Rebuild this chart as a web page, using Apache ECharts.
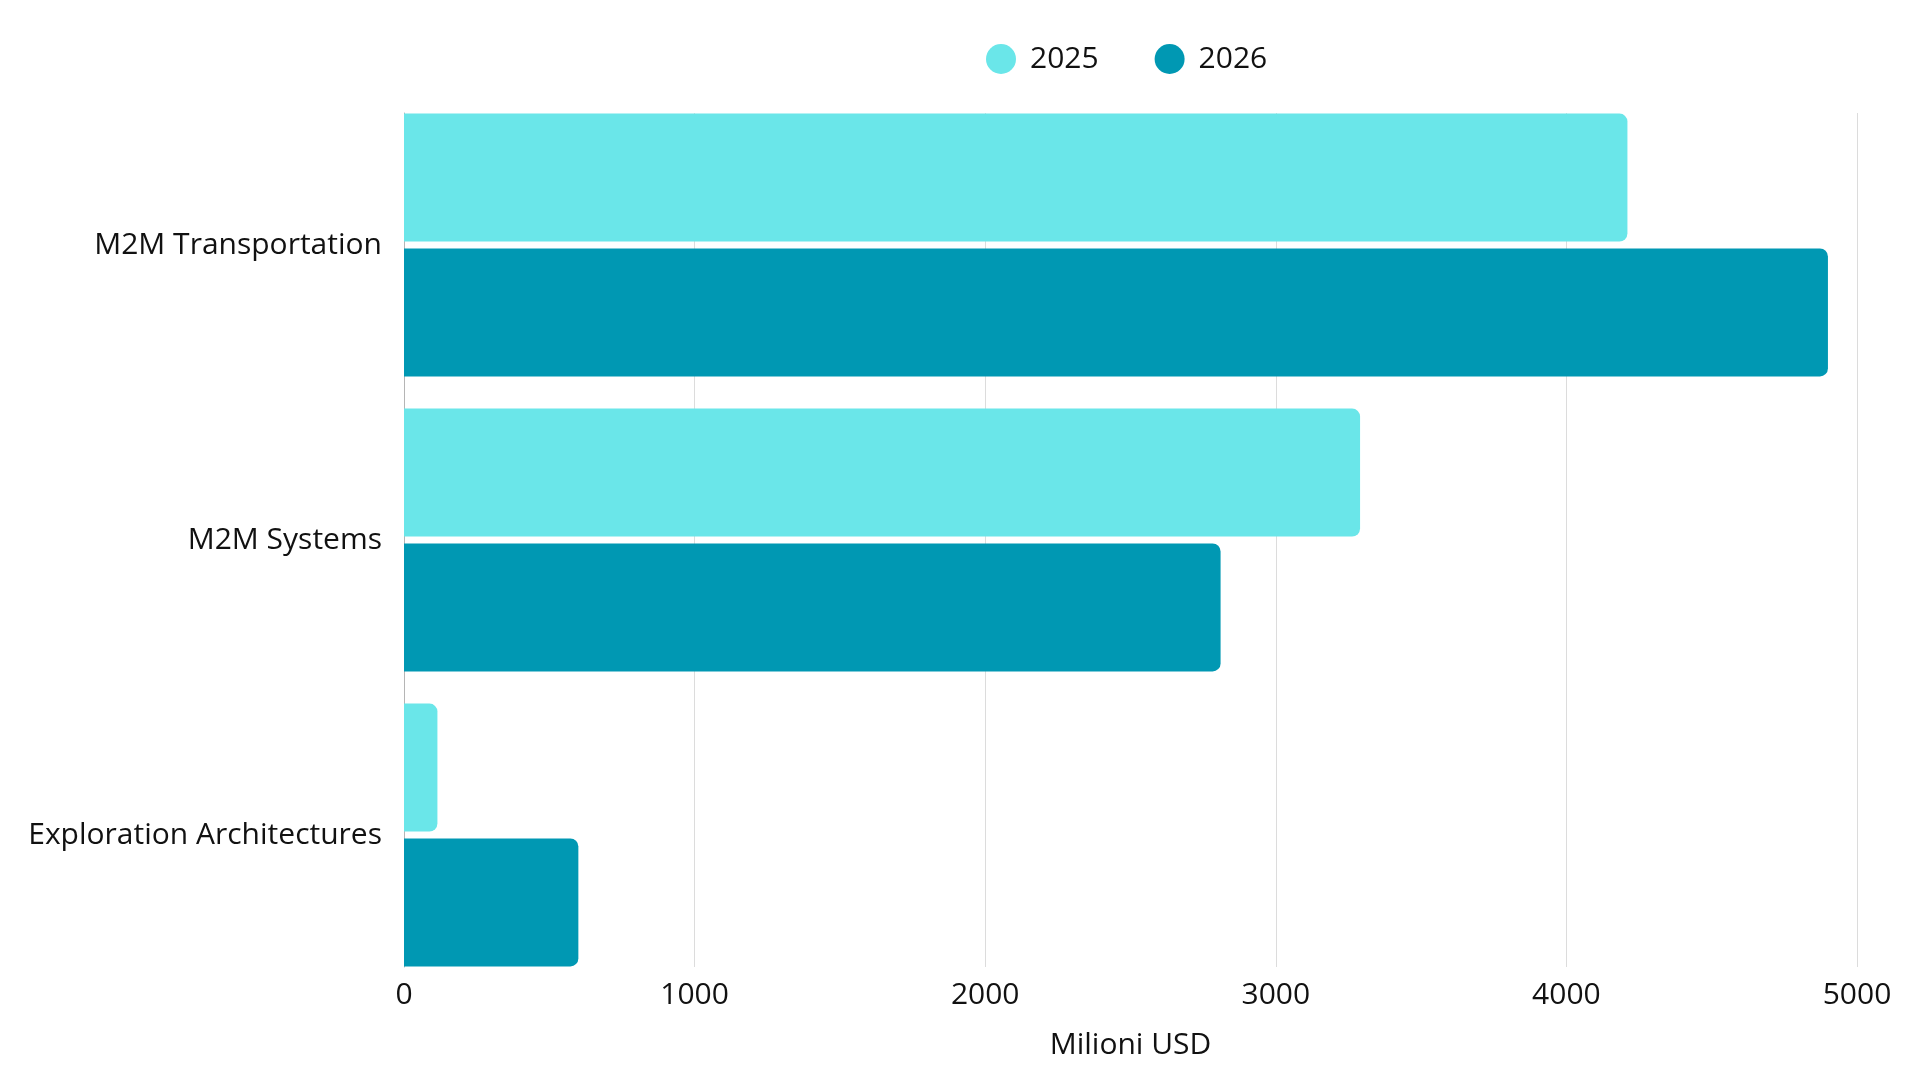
<!DOCTYPE html>
<html>
<head>
<meta charset="utf-8">
<script src="https://cdn.jsdelivr.net/npm/echarts@6/dist/echarts.min.js"></script>
<style>html,body{margin:0;padding:0;background:#fff}#c{width:1920px;height:1080px}</style>
</head>
<body>
<div id="c"></div>
<script>
const categories = ['M2M Transportation', 'M2M Systems', 'Exploration Architectures'];
const seriesNames = ['2025', '2026'];
const values2025 = [4210, 3290, 115];
const values2026 = [4900, 2810, 600];
const xTicks = [0, 1000, 2000, 3000, 4000, 5000];
const colors = ['#6ae6e9', '#0098b3'];
const FONT = '"Open Sans", "Noto Sans", sans-serif';
const TEXT = '#111111';

const chart = echarts.init(document.getElementById('c'));
chart.setOption({
  backgroundColor: '#ffffff',
  animation: false,
  textStyle: { fontFamily: FONT },
  legend: {
    data: seriesNames,
    left: 981, top: 39,
    icon: 'circle', itemWidth: 30, itemHeight: 30, itemGap: 56,
    textStyle: { fontSize: 30, color: TEXT, fontFamily: FONT, padding: [0, 0, 0, 9] }
  },
  grid: [
    { left: 404, right: 63, top: 113, height: 854 },
    { left: 404, right: 63, top: 97.5, height: 885 }
  ],
  xAxis: [
    {
      gridIndex: 0, type: 'value', min: xTicks[0], max: xTicks[xTicks.length - 1], interval: 1000,
      axisLine: { show: false }, axisTick: { show: false },
      splitLine: { show: true, lineStyle: { color: '#dcdcdc', width: 1 } },
      axisLabel: { fontSize: 30, color: TEXT, margin: 13, fontFamily: FONT, formatter: v => String(v) },
      name: 'Milioni USD', nameLocation: 'middle', nameGap: 63,
      nameTextStyle: { fontSize: 30, color: TEXT, fontFamily: FONT }
    },
    {
      gridIndex: 1, type: 'value', min: xTicks[0], max: xTicks[xTicks.length - 1], interval: 1000,
      show: false
    }
  ],
  yAxis: [
    {
      gridIndex: 0, type: 'value', min: 0, max: 1,
      axisLine: { show: true, lineStyle: { color: '#b5b5b5', width: 1 } },
      axisTick: { show: false }, axisLabel: { show: false }, splitLine: { show: false }
    },
    {
      gridIndex: 1, type: 'category', data: categories, inverse: true,
      axisLine: { show: false }, axisTick: { show: false }, splitLine: { show: false },
      axisLabel: { fontSize: 30, color: TEXT, margin: 22, fontFamily: FONT }
    }
  ],
  series: [
    {
      name: seriesNames[0], type: 'bar', xAxisIndex: 1, yAxisIndex: 1,
      data: values2025, barWidth: 128, barGap: '5.3%',
      itemStyle: { color: colors[0], borderRadius: [0, 8, 8, 0] }
    },
    {
      name: seriesNames[1], type: 'bar', xAxisIndex: 1, yAxisIndex: 1,
      data: values2026, barWidth: 128, barGap: '5.3%',
      itemStyle: { color: colors[1], borderRadius: [0, 8, 8, 0] }
    }
  ]
});
</script>
</body>
</html>
